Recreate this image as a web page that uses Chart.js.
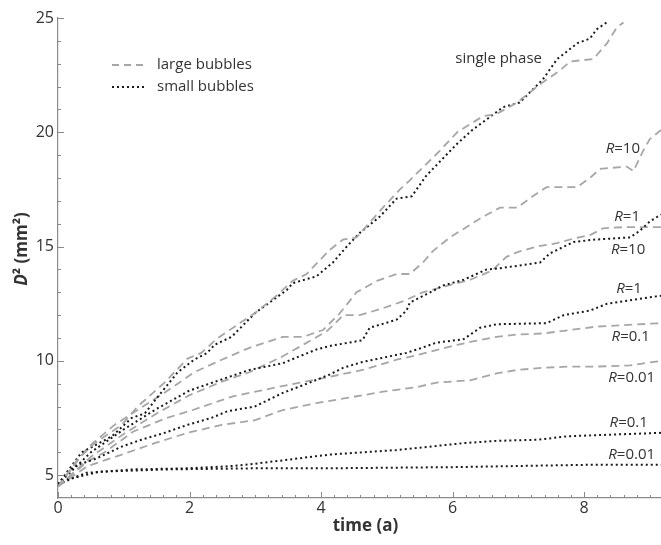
<!DOCTYPE html>
<html lang="en">
<head>
  <meta charset="UTF-8" />
  <title>D² vs time</title>
  <script src="https://cdn.jsdelivr.net/npm/chart.js"></script>
  <style>
    body { margin: 0; background: #fff; }
    .wrap { width: 661px; height: 545px; position: relative; }
  </style>
</head>
<body>
  <div class="wrap"><canvas id="d2Chart"></canvas></div>

  <script>
    // --- data (time in a, D² in mm²) ---
    const xTickVals = [0, 2, 4, 6, 8];
    const yTickVals = [5, 10, 15, 20, 25];

    // single phase
    const singleLargeT = [0, 0.3, 0.56, 0.97, 1.21, 1.62, 1.97, 2.18, 2.43, 2.79, 3.0, 3.3, 3.57, 3.78, 4.13, 4.33, 4.54, 4.94, 5.2, 5.35, 5.81, 6.07, 6.46, 6.67, 6.98, 7.33, 7.63, 7.79, 8.14, 8.35, 8.5, 8.6];
    const singleLargeD2 = [4.5, 5.7, 6.4, 7.2, 8.0, 9.05, 10.1, 10.35, 11.0, 11.7, 12.1, 12.8, 13.5, 13.8, 14.85, 15.3, 15.4, 16.7, 17.5, 17.9, 19.2, 20.0, 20.7, 20.8, 21.3, 22.1, 22.7, 23.1, 23.2, 23.9, 24.6, 24.8];
    const singleSmallT = [0, 0.36, 0.56, 0.82, 1.12, 1.32, 1.51, 1.82, 2.07, 2.27, 2.38, 2.64, 3.0, 3.48, 3.57, 3.93, 4.18, 4.39, 4.59, 4.89, 5.15, 5.38, 5.6, 6.07, 6.3, 6.77, 7.02, 7.37, 7.59, 7.9, 8.09, 8.19, 8.34];
    const singleSmallD2 = [4.6, 6.0, 6.3, 6.7, 7.5, 7.7, 8.4, 9.5, 10.05, 10.35, 10.7, 11.05, 12.1, 13.1, 13.4, 13.7, 14.3, 15.0, 15.6, 16.3, 17.1, 17.2, 18.1, 19.5, 20.1, 21.1, 21.3, 22.3, 23.2, 23.9, 24.1, 24.5, 24.8];

    // R = 10
    const r10LargeT = [0, 0.45, 0.86, 1.21, 1.62, 2.07, 2.49, 2.91, 3.42, 3.73, 4.03, 4.29, 4.54, 4.85, 5.15, 5.35, 5.55, 5.7, 5.96, 6.46, 6.72, 6.98, 7.22, 7.43, 7.89, 8.09, 8.24, 8.65, 8.75, 8.9, 9.0, 9.17];
    const r10LargeD2 = [4.5, 6.2, 7.2, 7.85, 8.6, 9.5, 10.05, 10.57, 11.05, 11.05, 11.35, 12.1, 13.0, 13.5, 13.8, 13.8, 14.3, 14.8, 15.4, 16.3, 16.7, 16.7, 17.2, 17.6, 17.6, 18.0, 18.4, 18.5, 18.3, 19.2, 19.7, 20.1];
    const r10SmallT = [0, 0.5, 1.0, 1.5, 2.0, 2.5, 2.91, 3.42, 3.93, 4.13, 4.63, 4.74, 5.15, 5.3, 5.35, 5.66, 5.86, 6.17, 6.52, 6.72, 7.33, 7.48, 7.84, 8.14, 8.7, 8.85, 9.0, 9.17];
    const r10SmallD2 = [4.6, 6.0, 7.0, 7.9, 8.7, 9.2, 9.6, 9.9, 10.5, 10.65, 10.9, 11.45, 11.8, 12.2, 12.55, 13.0, 13.3, 13.55, 14.0, 14.05, 14.3, 14.7, 15.2, 15.3, 15.4, 15.7, 16.1, 16.4];

    // R = 1
    const r1LargeT = [0, 0.5, 1.0, 1.5, 2.0, 2.5, 2.91, 3.42, 4.09, 4.34, 4.59, 4.94, 5.24, 5.55, 5.81, 6.07, 6.27, 6.6, 6.82, 6.98, 7.28, 7.59, 7.84, 8.09, 8.29, 8.6, 9.17];
    const r1LargeD2 = [4.5, 5.8, 6.8, 7.7, 8.5, 9.1, 9.5, 10.2, 11.3, 12.0, 12.0, 12.3, 12.6, 13.0, 13.2, 13.4, 13.55, 13.95, 14.55, 14.75, 15.0, 15.15, 15.35, 15.5, 15.8, 15.85, 15.85];
    const r1SmallT = [0, 0.25, 0.56, 0.97, 1.27, 1.62, 1.97, 2.33, 2.58, 2.99, 3.42, 3.83, 4.13, 4.34, 4.63, 5.3, 5.46, 5.76, 6.17, 6.42, 6.67, 7.43, 7.69, 8.09, 8.35, 8.7, 9.17];
    const r1SmallD2 = [4.6, 5.4, 5.7, 6.25, 6.55, 6.85, 7.2, 7.5, 7.8, 8.0, 8.6, 9.05, 9.4, 9.7, 9.95, 10.35, 10.5, 10.8, 10.95, 11.45, 11.6, 11.65, 12.0, 12.2, 12.5, 12.65, 12.85];

    // R = 0.1
    const r01LargeT = [0, 0.45, 0.71, 1.14, 1.65, 2.05, 2.66, 3.17, 3.68, 4.13, 4.63, 5.15, 5.46, 6.07, 6.31, 6.67, 6.98, 7.38, 7.79, 8.19, 9.17];
    const r01LargeD2 = [4.5, 5.6, 6.0, 6.9, 7.5, 7.85, 8.45, 8.75, 9.05, 9.3, 9.6, 10.05, 10.25, 10.7, 10.85, 11.05, 11.15, 11.2, 11.35, 11.5, 11.65];
    const r01SmallT = [0, 0.43, 1.14, 2.0, 2.66, 3.0, 4.13, 5.15, 6.17, 6.67, 7.3, 7.74, 8.2, 9.17];
    const r01SmallD2 = [4.6, 5.1, 5.25, 5.3, 5.4, 5.5, 5.9, 6.1, 6.4, 6.5, 6.55, 6.7, 6.75, 6.85];

    // R = 0.01
    const r001LargeT = [0, 0.45, 0.97, 1.47, 1.97, 2.49, 2.99, 3.42, 3.93, 4.44, 4.94, 5.45, 5.76, 6.27, 6.67, 6.98, 7.38, 7.79, 8.19, 8.7, 9.17];
    const r001LargeD2 = [4.5, 5.4, 5.9, 6.4, 6.85, 7.2, 7.4, 7.85, 8.15, 8.4, 8.65, 8.85, 9.05, 9.15, 9.45, 9.6, 9.7, 9.75, 9.75, 9.8, 10.0];
    const r001SmallT = [0, 0.12, 0.63, 1.65, 3.0, 4.13, 6.0, 8.0, 9.17];
    const r001SmallD2 = [4.6, 4.8, 5.15, 5.25, 5.3, 5.3, 5.35, 5.45, 5.45];

    const FONT = "'Open Sans', sans-serif";
    const TEXT = '#333';
    const AXIS = '#8a8a8a';
    const LARGE_COLOR = '#a6a6a6';
    const SMALL_COLOR = '#1a1a1a';

    const pts = (t, d) => t.map((v, i) => ({ x: v, y: d[i] }));

    function large(label, t, d) {
      return { label, data: pts(t, d), borderColor: LARGE_COLOR, borderWidth: 1.8, borderDash: [8, 5], pointRadius: 0, tension: 0 };
    }
    function small(label, t, d) {
      return { label, data: pts(t, d), borderColor: SMALL_COLOR, borderWidth: 2, borderDash: [2, 3], pointRadius: 0, tension: 0 };
    }

    const datasets = [
      large('single phase, large', singleLargeT, singleLargeD2),
      small('single phase, small', singleSmallT, singleSmallD2),
      large('R=10, large', r10LargeT, r10LargeD2),
      small('R=10, small', r10SmallT, r10SmallD2),
      large('R=1, large', r1LargeT, r1LargeD2),
      small('R=1, small', r1SmallT, r1SmallD2),
      large('R=0.1, large', r01LargeT, r01LargeD2),
      small('R=0.1, small', r01SmallT, r01SmallD2),
      large('R=0.01, large', r001LargeT, r001LargeD2),
      small('R=0.01, small', r001SmallT, r001SmallD2)
    ];

    // curve labels, anchored (right edge, middle) in data units
    const curveLabels = [
      { r: null, text: 'single phase', x: 7.36, y: 23.2 },
      { r: 'R', text: '=10', x: 8.85, y: 19.3 },
      { r: 'R', text: '=1', x: 8.85, y: 16.3 },
      { r: 'R', text: '=10', x: 8.93, y: 14.85 },
      { r: 'R', text: '=1', x: 8.88, y: 13.15 },
      { r: 'R', text: '=0.1', x: 9.0, y: 11.05 },
      { r: 'R', text: '=0.01', x: 9.08, y: 9.27 },
      { r: 'R', text: '=0.1', x: 8.97, y: 7.3 },
      { r: 'R', text: '=0.01', x: 9.08, y: 5.9 }
    ];

    const overlay = {
      id: 'overlay',
      afterDraw(chart) {
        const { ctx, chartArea: a, scales: { x, y } } = chart;
        ctx.save();

        // inward ticks
        ctx.strokeStyle = AXIS;
        ctx.lineWidth = 1;
        ctx.beginPath();
        for (let i = 0; i <= 46; i++) {
          const v = i * 0.2;
          if (v > x.max) break;
          const px = Math.round(x.getPixelForValue(v)) + 0.5;
          const len = (i % 10 === 0) ? 6 : 3;
          ctx.moveTo(px, a.bottom);
          ctx.lineTo(px, a.bottom - len);
        }
        for (let v = 5; v <= 25; v++) {
          const py = Math.round(y.getPixelForValue(v)) + 0.5;
          const len = (v % 5 === 0) ? 6 : 3;
          ctx.moveTo(a.left, py);
          ctx.lineTo(a.left + len, py);
        }
        ctx.stroke();

        // curve labels
        ctx.fillStyle = TEXT;
        ctx.textBaseline = 'middle';
        const normal = '15px ' + FONT;
        const italic = 'italic 15px ' + FONT;
        curveLabels.forEach(l => {
          const px = x.getPixelForValue(l.x);
          const py = y.getPixelForValue(l.y);
          ctx.font = normal;
          const w = ctx.measureText(l.text).width;
          ctx.textAlign = 'left';
          if (l.r) {
            ctx.font = italic;
            const wr = ctx.measureText(l.r).width;
            ctx.fillText(l.r, px - w - wr, py);
            ctx.font = normal;
          }
          ctx.fillText(l.text, px - w, py);
        });

        // legend
        const lx = 112, ly1 = 65, ly2 = 87;
        ctx.lineWidth = 1.8;
        ctx.strokeStyle = LARGE_COLOR;
        ctx.setLineDash([7, 5]);
        ctx.beginPath(); ctx.moveTo(lx, ly1); ctx.lineTo(lx + 32, ly1); ctx.stroke();
        ctx.lineWidth = 2;
        ctx.strokeStyle = SMALL_COLOR;
        ctx.setLineDash([2, 3]);
        ctx.beginPath(); ctx.moveTo(lx, ly2); ctx.lineTo(lx + 32, ly2); ctx.stroke();
        ctx.setLineDash([]);
        ctx.font = normal;
        ctx.textAlign = 'left';
        ctx.fillText('large bubbles', 157, ly1);
        ctx.fillText('small bubbles', 157, ly2);

        // axis titles
        ctx.font = 'bold 17px ' + FONT;
        ctx.textAlign = 'center';
        ctx.fillText('time (a)', (a.left + a.right) / 2 + 6, 526);

        ctx.translate(22, 249);
        ctx.rotate(-Math.PI / 2);
        const partD = 'D', rest = '\u00b2 (mm\u00b2)';
        ctx.font = 'bold italic 17px ' + FONT;
        const wD = ctx.measureText(partD).width;
        ctx.font = 'bold 17px ' + FONT;
        const wRest = ctx.measureText(rest).width;
        const start = -(wD + wRest) / 2;
        ctx.textAlign = 'left';
        ctx.font = 'bold italic 17px ' + FONT;
        ctx.fillText(partD, start, 0);
        ctx.font = 'bold 17px ' + FONT;
        ctx.fillText(rest, start + wD, 0);

        ctx.restore();
      }
    };

    new Chart(document.getElementById('d2Chart').getContext('2d'), {
      type: 'line',
      data: { datasets },
      options: {
        responsive: true,
        maintainAspectRatio: false,
        animation: false,
        layout: { padding: { top: 18, right: 0, left: 0, bottom: 0 } },
        plugins: { legend: { display: false }, tooltip: { enabled: false } },
        scales: {
          x: {
            type: 'linear',
            min: 0,
            max: 9.17,
            afterFit(s) { s.height = 47; },
            afterBuildTicks(s) { s.ticks = xTickVals.map(v => ({ value: v })); },
            grid: { display: false, drawTicks: false },
            border: { color: AXIS, width: 1.2 },
            ticks: { color: TEXT, font: { family: FONT, size: 16 }, padding: 1, maxRotation: 0 }
          },
          y: {
            type: 'linear',
            min: 4,
            max: 25,
            afterFit(s) { s.width = 58; },
            afterBuildTicks(s) { s.ticks = yTickVals.map(v => ({ value: v })); },
            grid: { display: false, drawTicks: false },
            border: { color: AXIS, width: 1.2 },
            ticks: { color: TEXT, font: { family: FONT, size: 16 }, padding: 4 }
          }
        }
      },
      plugins: [overlay]
    });
  </script>
</body>
</html>
